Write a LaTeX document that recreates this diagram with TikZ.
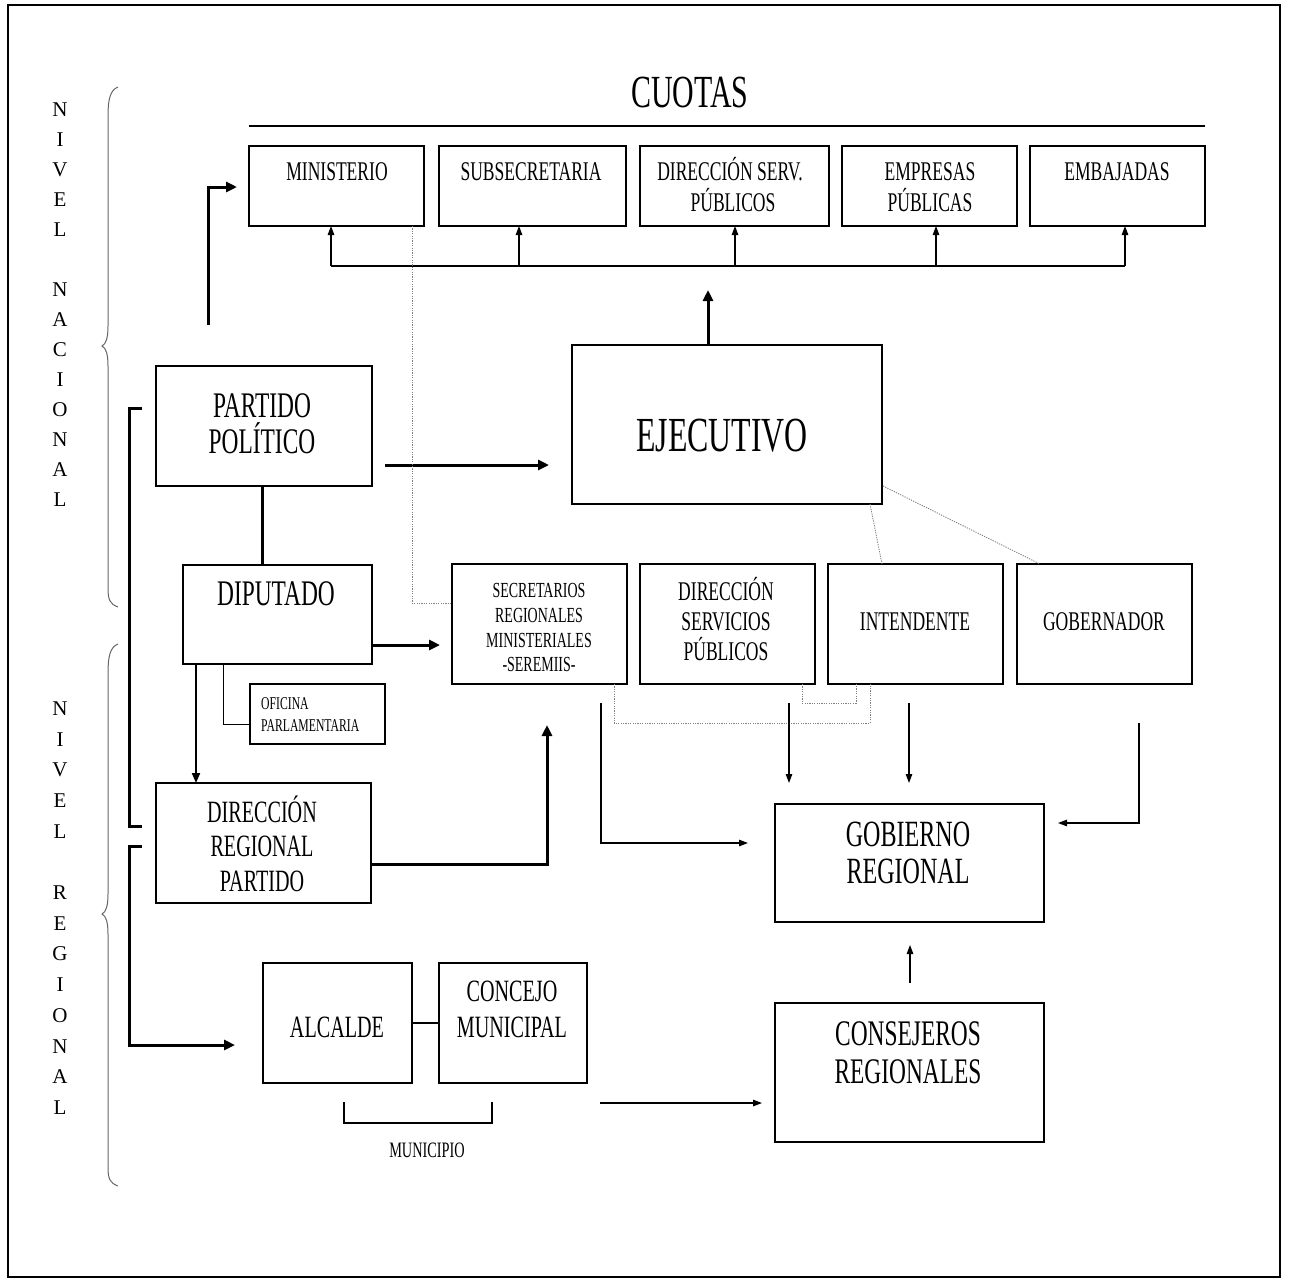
\documentclass[tikz,border=0pt]{standalone}
\usepackage{fontspec}
\setmainfont{Liberation Serif}[FakeStretch=0.65]
\newfontfamily\plainserif{Liberation Serif}
\usetikzlibrary{arrows.meta}
\newcommand\fsz[1]{\fontsize{#1}{#1}\selectfont}
\newcommand\bx[5]{\node[boxst, minimum width={(#4-#2)*1pt}, minimum height={(#5-#3)*1pt}] (#1) at ({(#2+#4)/2},{(#3+#5)/2}) {};}
\begin{document}
\begin{tikzpicture}[x=1pt,y=-1pt,
  boxst/.style={draw, line width=1.3pt, inner sep=0pt, outer sep=0pt},
  lab/.style={anchor=base, inner sep=0pt},
  sidelet/.style={inner sep=0pt, font=\plainserif\fsz{21}},
  thk/.style={line width=3pt},
  thkarr/.style={line width=3pt, -{Triangle[length=11pt,width=10pt]}},
  medarr/.style={line width=2pt, -{Triangle[length=10pt,width=8pt]}},
  thinarr/.style={line width=1.2pt, -{Triangle[length=9pt,width=6.5pt]}},
  dots/.style={draw=gray, line width=0.9pt, dash pattern=on 1.2pt off 1.2pt},
  brace/.style={draw=gray!80!black, line width=1pt}
]
\useasboundingbox (0,0) rectangle (1290,1280);
\fill[white] (0,0) rectangle (1290,1280);
% frame
\draw[line width=2.5pt] (8,5) rectangle (1280,1277);

% side labels
\foreach \c/\yy [count=\i] in {N/110,I/140,V/170,E/200,L/230,N/290,A/320,C/350,I/380,O/410,N/440,A/470,L/500}
  \node[sidelet] (nn\i) at (60,\yy) {\c};
\foreach \c/\yy [count=\i] in {N/709,I/740,V/770,E/801,L/832,R/893,E/924,G/954,I/985,O/1016,N/1047,A/1077,L/1108}
  \node[sidelet] (nr\i) at (60,\yy) {\c};

% braces
\draw[brace] (118,87) .. controls (110,90) and (108,100) .. (108,116) -- (108,326)
  .. controls (108,338) and (106,344) .. (102,346) .. controls (106,348) and (108,354) .. (108,366)
  -- (108,588) .. controls (108,600) and (110,604) .. (118,607);
\draw[brace] (118,644) .. controls (110,647) and (108,657) .. (108,673) -- (108,894)
  .. controls (108,906) and (106,912) .. (102,914) .. controls (106,916) and (108,922) .. (108,934)
  -- (108,1167) .. controls (108,1179) and (110,1183) .. (118,1186);

% CUOTAS
\node[lab, font=\fsz{46}] (cuotas) at (690,107) {CUOTAS};
\coordinate (cl1) at (249,126); \coordinate (cl2) at (1205,126);
\draw[line width=1.5pt] (cl1) -- (cl2);

% top boxes
\bx{m1}{249}{146}{424}{226}
\bx{m2}{439}{146}{626}{226}
\bx{m3}{640}{146}{829}{226}
\bx{m4}{842}{146}{1017}{226}
\bx{m5}{1030}{146}{1205}{226}
\node[lab, font=\fsz{27}] (tm1) at (337,180) {MINISTERIO};
\node[lab, font=\fsz{27}] (tm2) at (531,180) {SUBSECRETARIA};
\node[lab, font=\fsz{27}] (tm3a) at (730,180) {DIRECCIÓN SERV.};
\node[lab, font=\fsz{27}] (tm3b) at (733,211) {PÚBLICOS};
\node[lab, font=\fsz{27}] (tm4a) at (930,180) {EMPRESAS};
\node[lab, font=\fsz{27}] (tm4b) at (930,211) {PÚBLICAS};
\node[lab, font=\fsz{27}] (tm5) at (1117,180) {EMBAJADAS};

% bus
\coordinate (b1) at (331,266); \coordinate (b2) at (519,266); \coordinate (b3) at (735,266);
\coordinate (b4) at (936,266); \coordinate (b5) at (1125,266);
\draw[line width=1.2pt] (b1) -- (b5);
\foreach \i in {1,...,5} \draw[thinarr] (b\i) -- (b\i |- m\i.south);

% EJECUTIVO
\bx{ej}{572}{345}{882}{504}
\node[lab, font=\fsz{49}] (tej) at (722,451) {EJECUTIVO};
\coordinate (eu) at (708,290);
\draw[thkarr] (eu |- ej.north) -- (eu);

% PARTIDO POLITICO
\bx{pp}{156}{366}{372}{486}
\node[lab, font=\fsz{36}] (tpp1) at (262,417) {PARTIDO};
\node[lab, font=\fsz{36}] (tpp2) at (262,453) {POLÍTICO};
\coordinate (pa) at (208,325); \coordinate (pb) at (237,187);
\draw[thkarr] (pa) |- (pb);
\coordinate (pe1) at (385,465); \coordinate (pe2) at (549,465);
\draw[thkarr] (pe1) -- (pe2);

% DIPUTADO
\bx{dip}{183}{565}{372}{664}
\node[lab, font=\fsz{36}] (tdip) at (276,605) {DIPUTADO};
\coordinate (pd) at (262,500);
\draw[thk] (pp.south -| pd) -- (dip.north -| pd);

% OFICINA
\bx{ofi}{250}{684}{385}{744}
\node[anchor=base west, inner sep=0pt, font=\fsz{18}] (tofi1) at (261,709) {OFICINA};
\node[anchor=base west, inner sep=0pt, font=\fsz{18}] (tofi2) at (261,731) {PARLAMENTARIA};
\coordinate (o1) at (223,724);
\draw[line width=1pt] (dip.south -| o1) -- (o1) -- (ofi.west |- o1);

% DIRECCION REGIONAL PARTIDO
\bx{drp}{156}{783}{371}{903}
\node[lab, font=\fsz{31}] (tdrp1) at (262,822) {DIRECCIÓN};
\node[lab, font=\fsz{31}] (tdrp2) at (262,856) {REGIONAL};
\node[lab, font=\fsz{31}] (tdrp3) at (262,891) {PARTIDO};
\coordinate (dd) at (196,700);
\draw[medarr] (dip.south -| dd) -- (drp.north -| dd);

% left brackets
\coordinate (u1) at (142,408); \coordinate (u2) at (142,826);
\draw[thk, line join=miter] (u1) -- ++(-13,0) |- (u2);
\coordinate (l1) at (142,846); \coordinate (l2) at (235,1045);
\draw[thkarr, line join=miter] (l1) -- ++(-13,0) |- (l2);

% SEREMIS
\bx{ser}{452}{564}{627}{684}
\node[lab, font=\fsz{21.5}] (tser1) at (539,597) {SECRETARIOS};
\node[lab, font=\fsz{21.5}] (tser2) at (539,622) {REGIONALES};
\node[lab, font=\fsz{21.5}] (tser3) at (539,647) {MINISTERIALES};
\node[lab, font=\fsz{21.5}] (tser4) at (539,671) {-SEREMIIS-};
\coordinate (ds) at (440,645);
\draw[thkarr] (dip.east |- ds) -- (ds);
\coordinate (rs1) at (371,864); \coordinate (rs2) at (547,725);
\draw[thkarr, line join=miter] (rs1) -| (rs2);

% DIRECCION SERVICIOS PUBLICOS
\bx{dsp}{640}{564}{815}{684}
\node[lab, font=\fsz{27}] (tdsp1) at (726,600) {DIRECCIÓN};
\node[lab, font=\fsz{27}] (tdsp2) at (726,630) {SERVICIOS};
\node[lab, font=\fsz{27}] (tdsp3) at (726,660) {PÚBLICOS};

% INTENDENTE, GOBERNADOR
\bx{int}{828}{564}{1003}{684}
\node[lab, font=\fsz{27}] (tint) at (915,630) {INTENDENTE};
\bx{gob}{1017}{564}{1192}{684}
\node[lab, font=\fsz{27}] (tgob) at (1104,630) {GOBERNADOR};

% dotted connectors
\coordinate (d1) at (412,603);
\draw[dots] (m1.south -| d1) -- (d1) -- (d1 -| ser.west);
\coordinate (d2a) at (870,504); \coordinate (d2b) at (882,564);
\draw[dots] (d2a) -- (d2b);
\coordinate (d2c) at (883,486); \coordinate (d2d) at (1040,564);
\draw[dots] (d2c) -- (d2d);
\coordinate (d3) at (614,723); \coordinate (d4) at (870,723);
\draw[dots] (ser.south -| d3) -- (d3) -- (d4) -- (int.south -| d4);
\coordinate (d5) at (802,703); \coordinate (d6) at (856,703);
\draw[dots] (dsp.south -| d5) -- (d5) -- (d6) -- (int.south -| d6);

% GOBIERNO REGIONAL
\bx{gr}{775}{804}{1044}{922}
\node[lab, font=\fsz{37}] (tgr1) at (908,846) {GOBIERNO};
\node[lab, font=\fsz{37}] (tgr2) at (908,883) {REGIONAL};
\coordinate (g1a) at (601,703); \coordinate (g1b) at (748,843);
\draw[thinarr] (g1a) |- (g1b);
\coordinate (g2a) at (789,703); \coordinate (g2b) at (789,783);
\draw[thinarr] (g2a) -- (g2b);
\coordinate (g3a) at (909,703); \coordinate (g3b) at (909,783);
\draw[thinarr] (g3a) -- (g3b);
\coordinate (g4a) at (1139,723); \coordinate (g4b) at (1058,823);
\draw[thinarr] (g4a) |- (g4b);

% CONSEJEROS REGIONALES
\bx{cr}{775}{1003}{1044}{1142}
\node[lab, font=\fsz{36}] (tcr1) at (908,1045) {CONSEJEROS};
\node[lab, font=\fsz{36}] (tcr2) at (908,1083) {REGIONALES};
\coordinate (c1) at (910,983); \coordinate (c2) at (910,945);
\draw[thinarr] (c1) -- (c2);

% ALCALDE, CONCEJO
\bx{alc}{263}{963}{412}{1083}
\node[lab, font=\fsz{31}] (talc) at (337,1037) {ALCALDE};
\bx{con}{439}{963}{587}{1083}
\node[lab, font=\fsz{31}] (tcon1) at (512,1001) {CONCEJO};
\node[lab, font=\fsz{31}] (tcon2) at (512,1037) {MUNICIPAL};
\draw[line width=1.2pt] (alc.east) -- (con.west);
\coordinate (mu1) at (344,1102); \coordinate (mu2) at (492,1102);
\draw[line width=1.2pt] (mu1) -- ++(0,21) -| (mu2);
\node[lab, font=\fsz{22}] (tmun) at (427,1157) {MUNICIPIO};
\coordinate (ma1) at (600,1103); \coordinate (ma2) at (762,1103);
\draw[thinarr] (ma1) -- (ma2);
\end{tikzpicture}
\end{document}
